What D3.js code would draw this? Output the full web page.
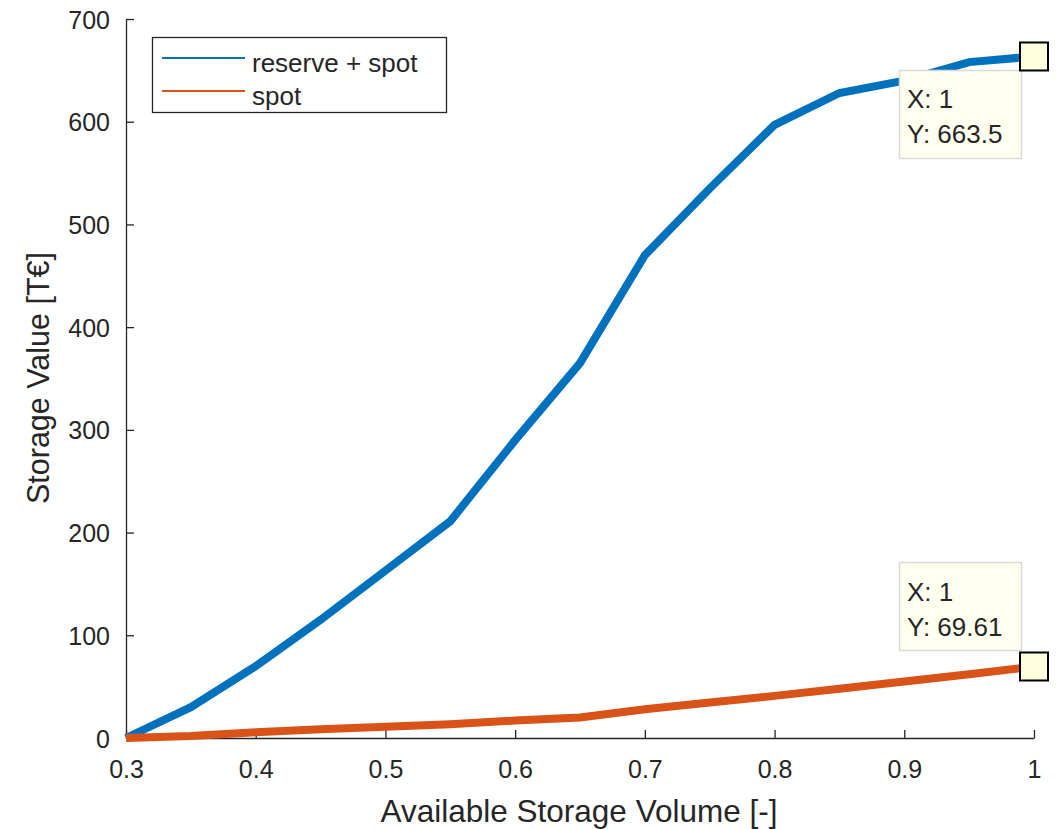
<!DOCTYPE html>
<html>
<head>
<meta charset="utf-8">
<script src="https://cdn.jsdelivr.net/npm/d3@7"></script>
<style>
  body { margin: 0; background: #fff; }
  text { font-family: "Liberation Sans", Arial, sans-serif; fill: #262626; }
</style>
</head>
<body>
<div id="chart"></div>
<script>
// storage value vs available volume
const volume = [0.3, 0.35, 0.4, 0.45, 0.5, 0.55, 0.6, 0.65, 0.7, 0.75, 0.8, 0.85, 0.9, 0.95, 1];
const reserveSpot = [0, 30, 70, 115, 163, 211, 290, 365, 470, 535, 597, 628, 640, 658, 663.5];
const spot = [0, 2, 5.5, 8.5, 11, 13.5, 17, 20, 28, 34.5, 41, 48, 55, 62, 69.61];
const xTicks = [0.3, 0.4, 0.5, 0.6, 0.7, 0.8, 0.9, 1];
const yTicks = [0, 100, 200, 300, 400, 500, 600, 700];

const series = [
    { name: "reserve + spot", values: reserveSpot, color: "#0072BD" },
    { name: "spot", values: spot, color: "#D95319" }
];

const width = 1056;
const height = 829;
const margin = { left: 126, right: 22, top: 19, bottom: 91 };

const svg = d3.select("#chart")
    .append("svg")
    .attr("width", width)
    .attr("height", height);

const xScale = d3.scaleLinear()
    .domain([0.3, 1])
    .range([margin.left, width - margin.right]);

const yScale = d3.scaleLinear()
    .domain([0, 700])
    .range([height - margin.bottom, margin.top]);

// axes
const xAxis = svg.append("g")
    .attr("transform", `translate(0,${height - margin.bottom})`)
    .call(d3.axisBottom(xScale).tickValues(xTicks).tickSizeInner(-8).tickSizeOuter(0).tickPadding(22).tickFormat(d => d3.format("")(d)));

const yAxis = svg.append("g")
    .attr("transform", `translate(${margin.left},0)`)
    .call(d3.axisLeft(yScale).tickValues(yTicks).tickSizeInner(-8).tickSizeOuter(0).tickPadding(16));

[xAxis, yAxis].forEach(ax => {
    ax.select(".domain").attr("stroke", "#262626").attr("stroke-width", 1.3);
    ax.selectAll(".tick line").attr("stroke", "#262626").attr("stroke-width", 1.3);
    ax.selectAll(".tick text")
        .attr("font-size", 25)
        .attr("font-family", "Liberation Sans, Arial, sans-serif")
        .attr("fill", "#262626");
});
yAxis.selectAll(".tick text").attr("dy", "0.36em");

svg.append("text")
    .attr("x", (xScale(0.3) + xScale(1)) / 2 - 1)
    .attr("y", 822)
    .attr("text-anchor", "middle")
    .attr("font-size", 31.5)
    .text("Available Storage Volume [-]");

svg.append("text")
    .attr("transform", `translate(49,378) rotate(-90)`)
    .attr("text-anchor", "middle")
    .attr("font-size", 30.5)
    .text("Storage Value [T€]");

// lines
const line = d3.line()
    .x((d, i) => xScale(volume[i]))
    .y(d => yScale(d));

svg.selectAll(".series")
    .data(series)
    .enter()
    .append("path")
    .attr("class", "series")
    .attr("d", d => line(d.values))
    .attr("fill", "none")
    .attr("stroke", d => d.color)
    .attr("stroke-width", 8)
    .attr("stroke-linejoin", "miter");

// legend
const legend = svg.append("g");
legend.append("rect")
    .attr("x", 152.5).attr("y", 37.5)
    .attr("width", 294).attr("height", 75)
    .attr("fill", "#fff")
    .attr("stroke", "#262626")
    .attr("stroke-width", 1.3);

series.forEach((s, i) => {
    const ly = 58 + i * 33;
    legend.append("line")
        .attr("x1", 162).attr("x2", 245)
        .attr("y1", ly).attr("y2", ly)
        .attr("stroke", s.color)
        .attr("stroke-width", 2);
    legend.append("text")
        .attr("x", 252)
        .attr("y", ly + 14)
        .attr("font-size", 26)
        .attr("fill", "#000")
        .text(s.name);
});

// data tips at the last point
series.forEach((s, i) => {
    const last = s.values.length - 1;
    const px = xScale(volume[last]);
    const py = yScale(s.values[last]);
    const boxTop = i === 0 ? py + 14 : py - 104;
    const tip = svg.append("g");
    tip.append("rect")
        .attr("x", 899.5).attr("y", boxTop)
        .attr("width", 122).attr("height", 88)
        .attr("fill", "#FFFFF0")
        .attr("stroke", "#D9D9D9")
        .attr("stroke-width", 1.5);
    tip.append("text")
        .attr("x", 907).attr("y", boxTop + 38)
        .attr("font-size", 26)
        .attr("fill", "#000")
        .text("X: " + d3.format("")(volume[last]));
    tip.append("text")
        .attr("x", 907).attr("y", boxTop + 73)
        .attr("font-size", 26)
        .attr("fill", "#000")
        .text("Y: " + s.values[last]);
    tip.append("rect")
        .attr("x", px - 14).attr("y", py - 14)
        .attr("width", 28).attr("height", 28)
        .attr("fill", "#FFFFDD")
        .attr("stroke", "#000")
        .attr("stroke-width", 2);
});
</script>
</body>
</html>
